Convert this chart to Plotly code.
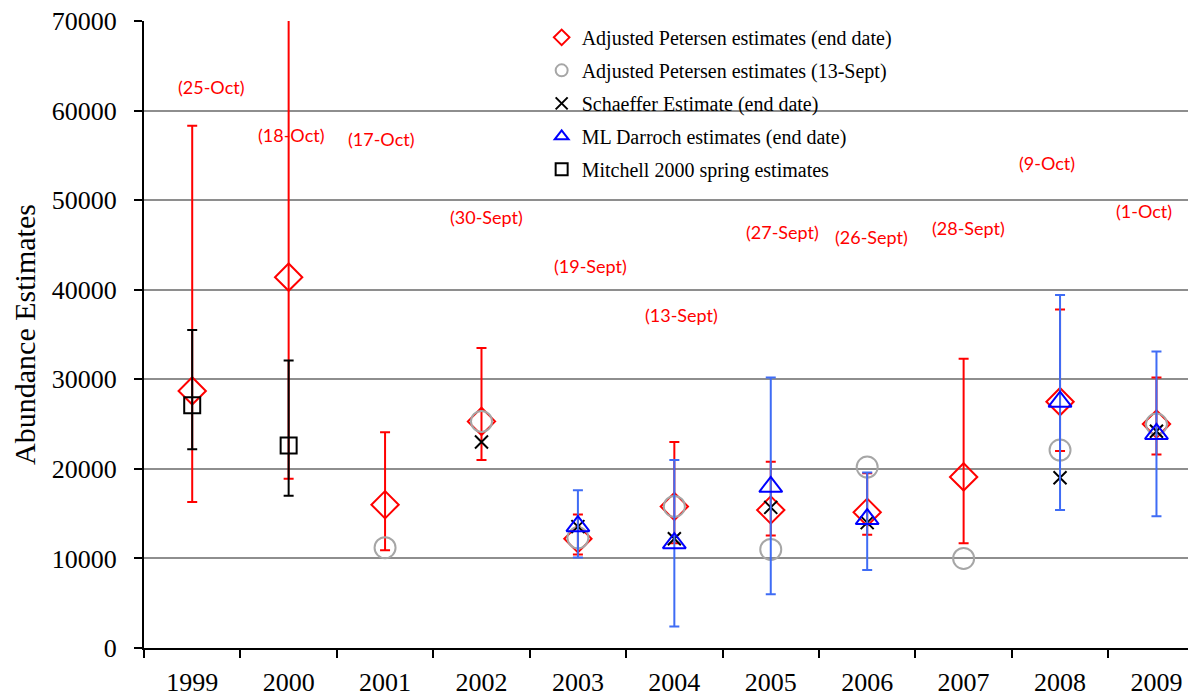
import plotly.graph_objects as go

years = ['1999', '2000', '2001', '2002', '2003', '2004', '2005', '2006', '2007', '2008', '2009']

# Adjusted Petersen estimates (end date) with CI
pet_end = [28700, 41400, 16000, 25300, 12200, 15800, 15400, 15150, 19100, 27500, 25000]
pet_end_lo = [16300, 18900, 10900, 21000, 10450, 11700, 12550, 12650, 11700, 22000, 21600]
pet_end_hi = [58300, 76000, 24100, 33500, 14900, 23000, 20800, 19500, 32300, 37800, 30200]

# Adjusted Petersen estimates (13-Sept)
pet_sep = [None, None, 11200, 25300, 12300, 15800, 11000, 20200, 10000, 22100, 25000]

# Schaeffer estimate (end date)
schaeffer = [None, None, None, 23000, 13550, 12200, 15700, 14000, None, 19000, 24200]

# ML Darroch estimates (end date) with CI
darroch = [None, None, None, None, 13600, 11700, 18000, 14400, None, 27500, 23900]
darroch_lo = [None, None, None, None, 10100, 2400, 6000, 8700, None, 15400, 14700]
darroch_hi = [None, None, None, None, 17600, 21000, 30200, 19600, None, 39400, 33100]

# Mitchell 2000 spring estimates with CI
mitchell = [27100, 22600, None, None, None, None, None, None, None, None, None]
mitchell_lo = [22200, 17000, None, None, None, None, None, None, None, None, None]
mitchell_hi = [35500, 32100, None, None, None, None, None, None, None, None, None]

# End-date labels
date_labels = ['(25-Oct)', '(18-Oct)', '(17-Oct)', '(30-Sept)', '(19-Sept)', '(13-Sept)',
               '(27-Sept)', '(26-Sept)', '(28-Sept)', '(9-Oct)', '(1-Oct)']
date_label_y = [62600, 57300, 56800, 48100, 42700, 37200, 46400, 45900, 46900, 54200, 48800]
date_label_dx = [19, 3, -4, 5, 13, 7, 12, 4, 5, -13, -12]


def plus(v, hi):
    return [None if (a is None or b is None) else b - a for a, b in zip(v, hi)]


def minus(v, lo):
    return [None if (a is None or b is None) else a - b for a, b in zip(v, lo)]


RED = '#ff0000'
BLUE = '#0000ff'
BLUE_ERR = '#3f6cf5'
GREY = '#a6a6a6'

fig = go.Figure()

fig.add_trace(go.Scatter(
    x=years, y=pet_end, mode='markers', name='Adjusted Petersen estimates (end date)',
    marker=dict(symbol='diamond-open', size=21, color=RED, line=dict(width=2, color=RED)),
    error_y=dict(type='data', symmetric=False, array=plus(pet_end, pet_end_hi),
                 arrayminus=minus(pet_end, pet_end_lo), color=RED, thickness=2, width=5),
    legendgroup='a'))

fig.add_trace(go.Scatter(
    x=years, y=pet_sep, mode='markers', name='Adjusted Petersen estimates (13-Sept)',
    marker=dict(symbol='circle-open', size=21, color=GREY, line=dict(width=2, color=GREY)),
    legendgroup='b'))

fig.add_trace(go.Scatter(
    x=years, y=schaeffer, mode='markers', name='Schaeffer Estimate (end date)',
    marker=dict(symbol='x-thin-open', size=13, color='black', line=dict(width=2, color='black')),
    legendgroup='c'))

fig.add_trace(go.Scatter(
    x=years, y=darroch, mode='markers', name='ML Darroch estimates (end date)',
    marker=dict(symbol='triangle-up-open', size=20, color=BLUE, line=dict(width=2, color=BLUE)),
    error_y=dict(type='data', symmetric=False, array=plus(darroch, darroch_hi),
                 arrayminus=minus(darroch, darroch_lo), color=BLUE_ERR, thickness=2, width=5),
    legendgroup='d'))

fig.add_trace(go.Scatter(
    x=years, y=mitchell, mode='markers', name='Mitchell 2000 spring estimates',
    marker=dict(symbol='square-open', size=16, color='black', line=dict(width=2, color='black')),
    error_y=dict(type='data', symmetric=False, array=plus(mitchell, mitchell_hi),
                 arrayminus=minus(mitchell, mitchell_lo), color='black', thickness=2, width=5),
    legendgroup='e'))

for i, (txt, yy, dx) in enumerate(zip(date_labels, date_label_y, date_label_dx)):
    fig.add_annotation(x=i, y=yy, xref='x', yref='y', text=txt, showarrow=False, xshift=dx,
                       font=dict(family='Lato', size=18, color=RED))

fig.update_layout(
    width=1188, height=692,
    margin=dict(l=136, r=0, t=13, b=52, autoexpand=False),
    paper_bgcolor='white', plot_bgcolor='white',
    font=dict(family='Liberation Serif', color='black'),
    showlegend=True,
    legend=dict(x=0.378, y=1.005, xanchor='left', yanchor='top', bgcolor='rgba(0,0,0,0)',
                font=dict(family='Liberation Serif', size=20, color='black'),
                itemsizing='constant', tracegroupgap=4, itemwidth=30),
    xaxis=dict(type='category', range=[-0.5, 10.41], tickson='boundaries', automargin=False,
               ticks='outside', ticklen=8, tickwidth=2, tickcolor='black',
               showline=True, linecolor='black', linewidth=2, showgrid=False,
               ticklabeloverflow='allow',
               tickfont=dict(family='Liberation Serif', size=26), ticklabelstandoff=10),
    yaxis=dict(range=[0, 70000], dtick=10000, tickformat='d', automargin=False,
               ticks='outside', ticklen=8, tickwidth=2, tickcolor='black',
               showline=True, linecolor='black', linewidth=2,
               showgrid=True, gridcolor='#8e8e8e', gridwidth=2, zeroline=False,
               ticklabeloverflow='allow',
               tickfont=dict(family='Liberation Serif', size=26), ticklabelstandoff=12,
               title=dict(text='Abundance Estimates', font=dict(family='Liberation Serif', size=30),
                          standoff=21)),
)

fig.write_html('out.html')
